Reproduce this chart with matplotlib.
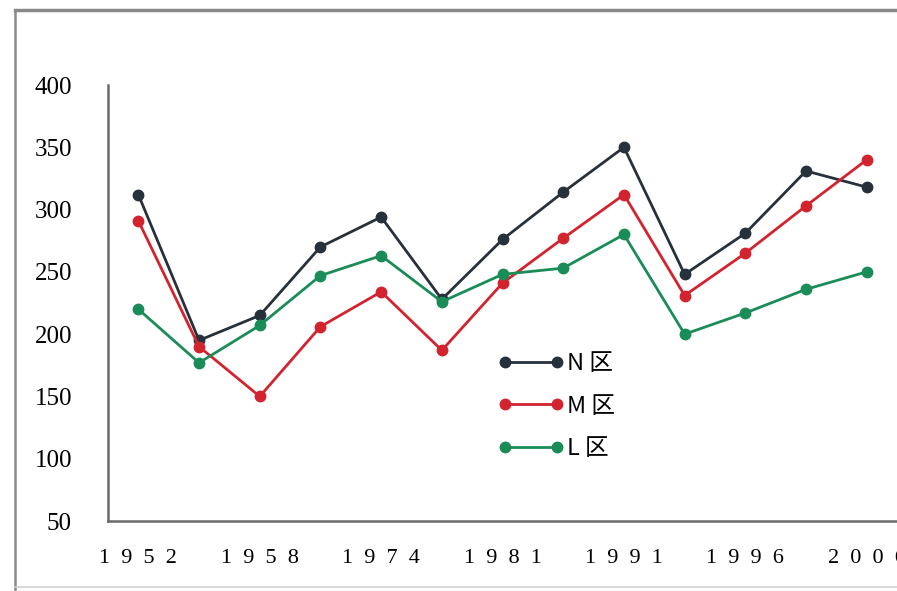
import matplotlib
matplotlib.use("Agg")
import matplotlib.pyplot as plt
from matplotlib.lines import Line2D

# ---- data ----
years = ["1952", "", "1958", "", "1974", "", "1981", "", "1991", "", "1996", "", "2006"]
series_names = ["N 区", "M 区", "L 区"]
n_values = [312, 195, 215, 270, 294, 228, 276, 314, 350, 248, 281, 331, 318]
m_values = [291, 190, 150, 206, 234, 187, 241, 277, 312, 231, 265, 303, 340]
l_values = [220, 177, 207, 247, 263, 226, 248, 253, 280, 200, 217, 236, 250]
y_ticks = [50, 100, 150, 200, 250, 300, 350, 400]

colors = ["#27313b", "#d3232f", "#1a8c58"]

W, H = 897, 591
fig = plt.figure(figsize=(W / 100, H / 100), dpi=100)
fig.patch.set_facecolor("white")

# axes geometry in pixels
left_px, bottom_px, top_px = 108, 521, 85
spacing = 60.7
xmin, xmax = -0.5, 13.0
width_px = (xmax - xmin) * spacing
ax = fig.add_axes([left_px / W, (H - bottom_px) / H, width_px / W, (bottom_px - top_px) / H])

x = list(range(len(years)))
for vals, name, c in zip([n_values, m_values, l_values], series_names, colors):
    ax.plot(x, vals, color=c, lw=2.0, marker="o", markersize=7.5,
            markerfacecolor=c, markeredgecolor=c, label=name, clip_on=False)

ax.set_xlim(xmin, xmax)
ax.set_ylim(50, 400)
ax.set_yticks(y_ticks)
ax.set_yticklabels([str(v) for v in y_ticks], family="Liberation Serif", fontsize=18)
ax.set_xticks(x)
sp = "\u2002"
ax.set_xticklabels([sp.join(list(s)) for s in years],
                   family=["Liberation Serif", "DejaVu Serif"], fontsize=16)
ax.tick_params(axis="y", length=0, pad=26)
ax.tick_params(axis="x", length=0, pad=20)

for s in ["top", "right"]:
    ax.spines[s].set_visible(False)
for s in ["left", "bottom"]:
    ax.spines[s].set_color("#6a6a6a")
    ax.spines[s].set_linewidth(1.8)

leg = ax.legend(loc="upper left", bbox_to_anchor=(477 / W, (H - 331) / H),
                bbox_transform=fig.transFigure, frameon=False, numpoints=2,
                handlelength=2.8, handletextpad=0.1, labelspacing=0.82,
                prop={"family": ["Noto Sans CJK JP", "DejaVu Sans"], "size": 17})

# outer frame of the scanned chart
fig.add_artist(Line2D([15 / W, 1.0], [(H - 10) / H, (H - 10) / H],
                      transform=fig.transFigure, color="#8a8a8a", lw=2.5))
fig.add_artist(Line2D([15 / W, 15 / W], [0, (H - 10) / H],
                      transform=fig.transFigure, color="#8a8a8a", lw=1.8))
fig.add_artist(Line2D([15 / W, 1.0], [(H - 587) / H, (H - 587) / H],
                      transform=fig.transFigure, color="#cfcfcf", lw=1.2))

fig.savefig("out.png", dpi=100, facecolor="white")
